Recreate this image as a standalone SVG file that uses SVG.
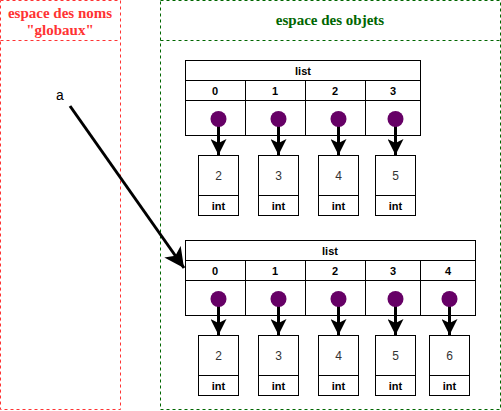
<svg xmlns="http://www.w3.org/2000/svg" width="501" height="411" viewBox="0 0 501 411">
<style>
.cell{fill:#fff;stroke:#000;stroke-width:1}
.lbl{font-family:"Liberation Sans",Arial,sans-serif;font-size:11px;font-weight:bold;fill:#000;text-anchor:middle}
.val{font-family:"Liberation Sans",Arial,sans-serif;font-size:12px;fill:#333;text-anchor:middle}
.dot{fill:#660066}
.ptr{stroke:#000;stroke-width:3;fill:none;marker-end:url(#ah)}
.title{font-family:"Liberation Serif","Times New Roman",serif;font-size:15px;font-weight:bold;text-anchor:middle}
</style>
<defs>
<marker id="ah" markerUnits="userSpaceOnUse" markerWidth="18" markerHeight="16" refX="16" refY="8" orient="auto">
<path d="M0,0 L16,8 L0,16 L4,8 Z" fill="#000"/>
</marker>
<marker id="ah2" markerUnits="userSpaceOnUse" markerWidth="22" markerHeight="20" refX="20" refY="10" orient="auto">
<path d="M0,0 L20,10 L0,20 L5,10 Z" fill="#000"/>
</marker>
</defs>
<rect width="501" height="411" fill="#fff"/>
<g id="globals">
<rect x="0.5" y="0.5" width="120" height="409" fill="none" stroke="#FF3333" stroke-dasharray="3,3"/>
<line x1="0.5" y1="40.5" x2="120.5" y2="40.5" stroke="#FF3333" stroke-dasharray="3,3"/>
<text class="title" x="60" y="18" fill="#FF3333">espace des noms</text>
<text class="title" x="60" y="35" fill="#FF3333">"globaux"</text>
<text x="60" y="100" font-family="'Liberation Mono','Courier New',monospace" font-size="14" text-anchor="middle" fill="#000">a</text>
</g>
<g id="objects">
<rect x="160.5" y="0.5" width="340" height="409" fill="none" stroke="#006600" stroke-dasharray="3,3"/>
<line x1="160.5" y1="40.5" x2="500.5" y2="40.5" stroke="#006600" stroke-dasharray="3,3"/>
<text class="title" x="330" y="25" fill="#006600">espace des objets</text>
</g>
<g id="list1">
<rect class="cell" x="185.5" y="60.5" width="235" height="20"/>
<text class="lbl" x="303" y="75">list</text>
<rect class="cell" x="185.5" y="80.5" width="60" height="20"/>
<rect class="cell" x="245.5" y="80.5" width="60" height="20"/>
<rect class="cell" x="305.5" y="80.5" width="60" height="20"/>
<rect class="cell" x="365.5" y="80.5" width="55" height="20"/>
<text class="lbl" x="215" y="95">0</text>
<text class="lbl" x="275" y="95">1</text>
<text class="lbl" x="335" y="95">2</text>
<text class="lbl" x="393" y="95">3</text>
<rect class="cell" x="185.5" y="100.5" width="60" height="35"/>
<rect class="cell" x="245.5" y="100.5" width="60" height="35"/>
<rect class="cell" x="305.5" y="100.5" width="60" height="35"/>
<rect class="cell" x="365.5" y="100.5" width="55" height="35"/>
</g>
<g id="list2">
<rect class="cell" x="185.5" y="240.5" width="290" height="20"/>
<text class="lbl" x="330" y="255">list</text>
<rect class="cell" x="185.5" y="260.5" width="60" height="20"/>
<rect class="cell" x="245.5" y="260.5" width="60" height="20"/>
<rect class="cell" x="305.5" y="260.5" width="60" height="20"/>
<rect class="cell" x="365.5" y="260.5" width="55" height="20"/>
<rect class="cell" x="420.5" y="260.5" width="55" height="20"/>
<text class="lbl" x="215" y="275">0</text>
<text class="lbl" x="275" y="275">1</text>
<text class="lbl" x="335" y="275">2</text>
<text class="lbl" x="393" y="275">3</text>
<text class="lbl" x="448" y="275">4</text>
<rect class="cell" x="185.5" y="280.5" width="60" height="35"/>
<rect class="cell" x="245.5" y="280.5" width="60" height="35"/>
<rect class="cell" x="305.5" y="280.5" width="60" height="35"/>
<rect class="cell" x="365.5" y="280.5" width="55" height="35"/>
<rect class="cell" x="420.5" y="280.5" width="55" height="35"/>
</g>
<g id="ints1">
<g id="i1a"><rect class="cell" x="198.5" y="155.5" width="40" height="40"/><rect class="cell" x="198.5" y="195.5" width="40" height="20"/><text class="val" x="218.5" y="180">2</text><text class="lbl" x="218.5" y="210">int</text></g>
<g id="i1b"><rect class="cell" x="258.5" y="155.5" width="40" height="40"/><rect class="cell" x="258.5" y="195.5" width="40" height="20"/><text class="val" x="278.5" y="180">3</text><text class="lbl" x="278.5" y="210">int</text></g>
<g id="i1c"><rect class="cell" x="318.5" y="155.5" width="40" height="40"/><rect class="cell" x="318.5" y="195.5" width="40" height="20"/><text class="val" x="338.5" y="180">4</text><text class="lbl" x="338.5" y="210">int</text></g>
<g id="i1d"><rect class="cell" x="375.5" y="155.5" width="40" height="40"/><rect class="cell" x="375.5" y="195.5" width="40" height="20"/><text class="val" x="395.5" y="180">5</text><text class="lbl" x="395.5" y="210">int</text></g>
</g>
<g id="ints2">
<g id="i2a"><rect class="cell" x="198.5" y="335.5" width="40" height="40"/><rect class="cell" x="198.5" y="375.5" width="40" height="20"/><text class="val" x="218.5" y="360">2</text><text class="lbl" x="218.5" y="390">int</text></g>
<g id="i2b"><rect class="cell" x="258.5" y="335.5" width="40" height="40"/><rect class="cell" x="258.5" y="375.5" width="40" height="20"/><text class="val" x="278.5" y="360">3</text><text class="lbl" x="278.5" y="390">int</text></g>
<g id="i2c"><rect class="cell" x="318.5" y="335.5" width="40" height="40"/><rect class="cell" x="318.5" y="375.5" width="40" height="20"/><text class="val" x="338.5" y="360">4</text><text class="lbl" x="338.5" y="390">int</text></g>
<g id="i2d"><rect class="cell" x="375.5" y="335.5" width="40" height="40"/><rect class="cell" x="375.5" y="375.5" width="40" height="20"/><text class="val" x="395.5" y="360">5</text><text class="lbl" x="395.5" y="390">int</text></g>
<g id="i2e"><rect class="cell" x="429.5" y="335.5" width="40" height="40"/><rect class="cell" x="429.5" y="375.5" width="40" height="20"/><text class="val" x="449.5" y="360">6</text><text class="lbl" x="449.5" y="390">int</text></g>
</g>
<g id="connectors">
<line class="ptr" x1="218.5" y1="120" x2="218.5" y2="155"/>
<line class="ptr" x1="278.5" y1="120" x2="278.5" y2="155"/>
<line class="ptr" x1="338.5" y1="120" x2="338.5" y2="155"/>
<line class="ptr" x1="395.5" y1="120" x2="395.5" y2="155"/>
<line class="ptr" x1="218.5" y1="300" x2="218.5" y2="335"/>
<line class="ptr" x1="278.5" y1="300" x2="278.5" y2="335"/>
<line class="ptr" x1="338.5" y1="300" x2="338.5" y2="335"/>
<line class="ptr" x1="395.5" y1="300" x2="395.5" y2="335"/>
<line class="ptr" x1="449.5" y1="300" x2="449.5" y2="335"/>
<line x1="70" y1="106" x2="184" y2="268" stroke="#000" stroke-width="3" marker-end="url(#ah2)"/>
<circle class="dot" cx="218.5" cy="119" r="8"/>
<circle class="dot" cx="278.5" cy="119" r="8"/>
<circle class="dot" cx="338.5" cy="119" r="8"/>
<circle class="dot" cx="395.5" cy="119" r="8"/>
<circle class="dot" cx="218.5" cy="299" r="8"/>
<circle class="dot" cx="278.5" cy="299" r="8"/>
<circle class="dot" cx="338.5" cy="299" r="8"/>
<circle class="dot" cx="395.5" cy="299" r="8"/>
<circle class="dot" cx="449.5" cy="299" r="8"/>
</g>
</svg>
